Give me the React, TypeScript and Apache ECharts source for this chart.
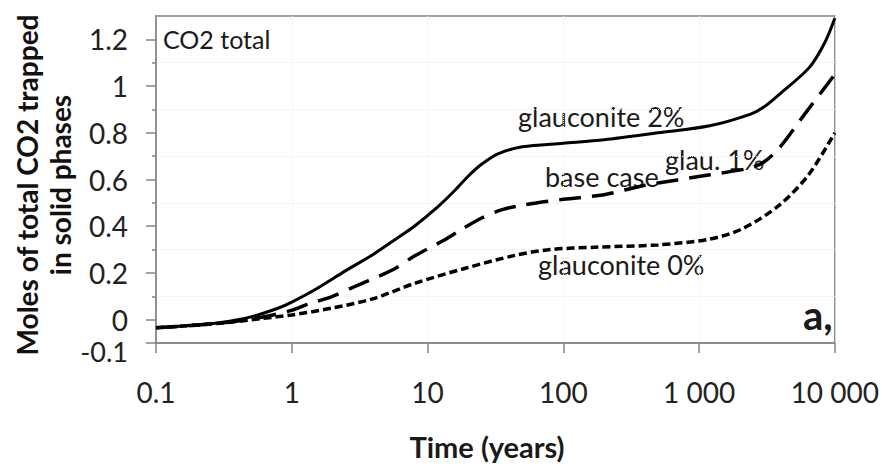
import React, { useEffect, useRef } from "react";
import * as echarts from "echarts";

// Time (years) sample points and CO2 trapped values
const timesGlau2 = [0.1, 0.2, 0.3, 0.5, 0.8, 1, 1.5, 2.5, 4, 6, 8, 12, 16, 20, 25, 33, 50, 100, 200, 500, 1200, 2400, 3000, 4000, 6500, 8500, 10000];
const valuesGlau2 = [-0.035, -0.022, -0.012, 0.012, 0.05, 0.075, 0.13, 0.21, 0.28, 0.35, 0.4, 0.485, 0.555, 0.615, 0.665, 0.71, 0.74, 0.755, 0.77, 0.8, 0.83, 0.88, 0.91, 0.97, 1.08, 1.19, 1.29];

const timesBase = [0.1, 0.3, 0.6, 1, 1.3, 2, 3, 5.7, 8, 13, 18, 25, 35, 50, 100, 200, 400, 1200, 2400, 3000, 3900, 6000, 10000];
const valuesBase = [-0.035, -0.015, 0.01, 0.04, 0.065, 0.1, 0.145, 0.217, 0.272, 0.338, 0.388, 0.435, 0.47, 0.49, 0.515, 0.535, 0.575, 0.62, 0.65, 0.675, 0.735, 0.88, 1.05];

const timesGlau0 = [0.1, 0.3, 0.6, 1, 2, 4, 8, 19, 44, 80, 170, 500, 1200, 2100, 3900, 6400, 10000];
const valuesGlau0 = [-0.035, -0.015, 0.005, 0.02, 0.05, 0.09, 0.155, 0.22, 0.275, 0.3, 0.31, 0.32, 0.345, 0.39, 0.49, 0.62, 0.8];

const yLabelValues = [0, 0.2, 0.4, 0.6, 0.8, 1, 1.2];
const yBottomLabel = [-0.1];
const yMinorValues = [0.1, 0.3, 0.5, 0.7, 0.9, 1.1];

const FONT = "Lato, 'Open Sans', sans-serif";

const pairs = (t: number[], v: number[]) => t.map((x, i) => [x, v[i]]);

const fmtX = (v: number) => {
  if (v < 1) return String(Number(v.toPrecision(2)));
  return String(Math.round(v)).replace(/\B(?=(\d{3})+(?!\d))/g, " ");
};
const fmtY = (v: number) => String(Number(v.toFixed(1)));

export default function App() {
  const ref = useRef<HTMLDivElement>(null);
  useEffect(() => {
    document.body.style.margin = "0";
    if (!ref.current) return;
    const chart = echarts.init(ref.current, undefined, { renderer: "svg" });
    const axisGray = "#858585";
    const lineCommon = {
      type: "line" as const,
      showSymbol: false,
      smooth: 0.3,
      xAxisIndex: 0,
      yAxisIndex: 0,
    };
    const yLabelStyle = {
      formatter: fmtY,
      fontFamily: FONT,
      fontSize: 28,
      color: "#222",
      margin: 28,
    };
    const txt = (text: string, x: number, y: number, font: string, align = "left") => ({
      type: "text",
      x,
      y,
      style: { text, font, fill: "#1a1a1a", textAlign: align, textVerticalAlign: "middle" },
    });
    chart.setOption({
      animation: false,
      backgroundColor: "#ffffff",
      grid: {
        left: 156,
        right: 39,
        top: 16,
        bottom: 123,
        show: true,
        borderColor: axisGray,
        borderWidth: 1.5,
        backgroundColor: "transparent",
      },
      xAxis: {
        type: "log",
        logBase: 10,
        min: 0.1,
        max: 10000,
        axisLine: { show: true, onZero: false, lineStyle: { color: axisGray, width: 1.5 } },
        axisTick: { show: true, length: 10, lineStyle: { color: axisGray, width: 1.5 } },
        axisLabel: {
          formatter: fmtX,
          fontFamily: FONT,
          fontSize: 28,
          color: "#222",
          margin: 35,
          showMinLabel: true,
          showMaxLabel: true,
        },
        splitLine: { show: true, lineStyle: { color: "#ececec", type: "dotted", width: 1 } },
      },
      yAxis: [
        {
          type: "value",
          min: -0.1,
          max: 1.3,
          interval: 0.1,
          axisLine: { show: true, lineStyle: { color: axisGray, width: 1.5 } },
          axisTick: {
            show: true,
            length: 10,
            customValues: [...yBottomLabel, ...yLabelValues],
            lineStyle: { color: axisGray, width: 1.5 },
          },
          axisLabel: { ...yLabelStyle, customValues: yLabelValues },
          splitLine: { show: false },
        },
        {
          type: "value",
          min: -0.1,
          max: 1.3,
          interval: 0.1,
          position: "left",
          offset: 0,
          axisLine: { show: false },
          axisTick: {
            show: true,
            length: 4,
            customValues: yMinorValues,
            lineStyle: { color: axisGray, width: 1.5 },
          },
          axisLabel: {
            ...yLabelStyle,
            customValues: yBottomLabel,
            showMinLabel: true,
            fontSize: 27,
            verticalAlign: "top",
            lineHeight: 26,
            padding: [-5, 0, 0, 0],
          },
          splitLine: { show: true, lineStyle: { color: "#ececec", type: "dotted", width: 1 } },
        },
      ],
      series: [
        {
          ...lineCommon,
          name: "glauconite 2%",
          data: pairs(timesGlau2, valuesGlau2),
          lineStyle: { color: "#000", width: 3 },
        },
        {
          ...lineCommon,
          name: "base case",
          data: pairs(timesBase, valuesBase),
          lineStyle: { color: "#000", width: 3.5, type: [22, 11] },
        },
        {
          ...lineCommon,
          name: "glauconite 0%",
          data: pairs(timesGlau0, valuesGlau0),
          lineStyle: { color: "#000", width: 3.5, type: [8, 4] },
        },
      ],
      graphic: [
        txt("CO2 total", 163, 39, `25px ${FONT}`),
        txt("glauconite 2%", 518, 116, `27px ${FONT}`),
        txt("base case", 545, 176, `27px ${FONT}`),
        txt("glau. 1%", 665, 159, `27px ${FONT}`),
        txt("glauconite 0%", 538, 264, `27px ${FONT}`),
        txt("a,", 803, 315, `bold 40px ${FONT}`),
        txt("Time (years)", 487, 446, `bold 29px ${FONT}`, "center"),
        {
          type: "text",
          x: 43,
          y: 185,
          rotation: Math.PI / 2,
          style: {
            text: "Moles of total CO2 trapped\nin solid phases",
            font: `bold 28px ${FONT}`,
            lineHeight: 33,
            fill: "#111",
            textAlign: "center",
            textVerticalAlign: "middle",
          },
        },
      ],
    });
    return () => chart.dispose();
  }, []);
  return <div ref={ref} style={{ width: 882, height: 466 }} />;
}
